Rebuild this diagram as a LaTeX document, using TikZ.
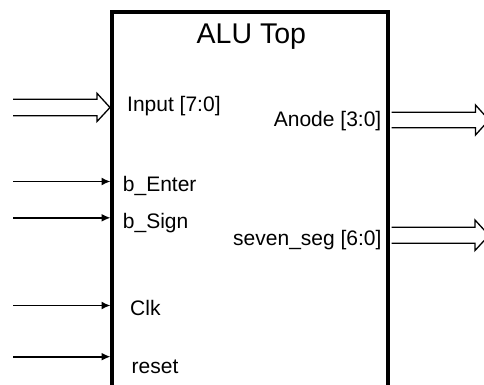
\documentclass[tikz,border=0pt]{standalone}
\usepackage{fontspec}
\setmainfont{Liberation Sans}
\usetikzlibrary{arrows.meta}
\begin{document}
\begin{tikzpicture}[x=1pt,y=-1pt,
  lbl/.style={inner sep=0pt,anchor=base west,font=\fontsize{21}{25}\selectfont},
  lblr/.style={inner sep=0pt,anchor=base east,font=\fontsize{21}{25}\selectfont},
  wire/.style={line width=1.6pt,-{Latex[length=9pt,width=8pt]}},
  bus/.style={line width=1.3pt,line join=miter},
  boxline/.style={line width=4pt,line join=miter}]
\useasboundingbox (0,0) rectangle (484,385);
\clip (0,0) rectangle (484,385);
% block
\coordinate (bl) at (112,392);
\coordinate (tl) at (112,11.7);
\coordinate (tr) at (387.5,11.7);
\coordinate (br) at (387.5,392);
\draw[boxline] (bl) -- (tl) -- (tr) -- (br);
\node[inner sep=0pt,anchor=base west,font=\fontsize{28.5}{34}\selectfont] (title) at (196.5,43.3) {ALU Top};
% labels
\node[lbl] (lin) at (127,111.7) {Input [7:0]};
\node[lbl] (lenter) at (122.7,191.7) {b\_Enter};
\node[lbl] (lsign) at (122.7,228.3) {b\_Sign};
\node[lbl] (lclk) at (130,315) {Clk};
\node[lbl] (lreset) at (131.5,373.3) {reset};
\node[lblr] (lanode) at (381.5,127) {Anode [3:0]};
\node[lblr] (lseg) at (381.7,245) {seven\_seg [6:0]};
% single wires
\coordinate (es) at (13,181.5); \coordinate (ee) at (110.5,181.5);
\coordinate (ss) at (13,217.8); \coordinate (se) at (110.5,217.8);
\coordinate (cs) at (13,305.5); \coordinate (ce) at (110.5,305.5);
\coordinate (rs) at (13,356.7); \coordinate (re) at (110.5,356.7);
\draw[wire] (es) -- (ee);
\draw[wire] (ss) -- (se);
\draw[wire] (cs) -- (ce);
\draw[wire] (rs) -- (re);
% input bus
\coordinate (ia) at (13,99.3);
\coordinate (ib) at (13,115.7);
\coordinate (itip) at (110,107.5);
\draw[bus] (ia) -- (97,99.3) -- (97,93.3) -- (itip) -- (97,121.5) -- (97,115.7) -- (ib);
% anode bus
\coordinate (aa) at (391.5,112.3);
\coordinate (ab) at (391.5,127.7);
\coordinate (atip) at (489,120);
\draw[bus] (aa) -- (475.5,112.3) -- (475.5,105) -- (atip) -- (475.5,135) -- (475.5,127.7) -- (ab);
% seven_seg bus
\coordinate (sa) at (391.5,227.3);
\coordinate (sb) at (391.5,243.3);
\coordinate (stip) at (489,235.3);
\draw[bus] (sa) -- (475,227.3) -- (475,220) -- (stip) -- (475,250.5) -- (475,243.3) -- (sb);
\end{tikzpicture}
\end{document}
